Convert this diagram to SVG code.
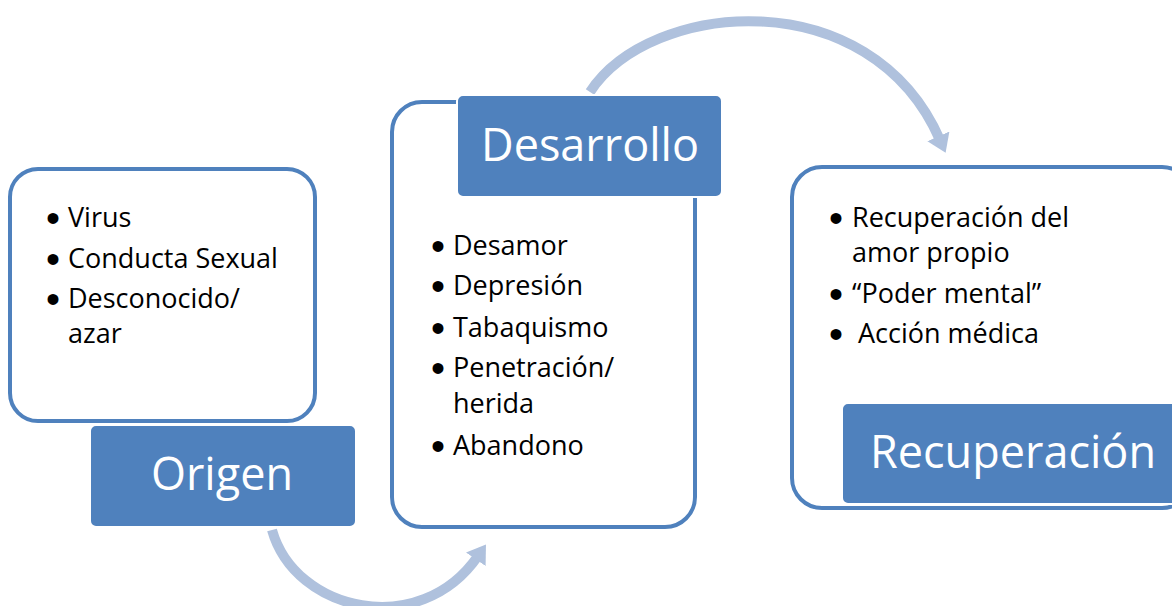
<svg xmlns="http://www.w3.org/2000/svg" width="1172" height="606" viewBox="0 0 1172 606">
<style>
.box{fill:#fff;stroke:#4F81BD;stroke-width:4}
.lbl{fill:#4F81BD;stroke:#fff;stroke-width:2}
.lt{font-family:"Open Sans","Liberation Sans",sans-serif;fill:#fff;font-size:45px}
.it{font-family:"Open Sans","Liberation Sans",sans-serif;fill:#000;font-size:27px}
.bu{font-family:"Liberation Sans",sans-serif;fill:#000;font-size:40px}
.arc{fill:none;stroke:#AFC1DD;stroke-width:10}
</style>
<defs>
<marker id="ah" markerUnits="userSpaceOnUse" markerWidth="24" markerHeight="26" refX="4" refY="12" orient="auto">
<path d="M0,0 L18,12 L0,24 z" fill="#AFC1DD"/>
</marker>
</defs>
<rect width="1172" height="606" fill="#fff"/>
<g id="connectors">
<path class="arc" d="M272,530 C295,612 420,640 478,556" marker-end="url(#ah)"/>
<path class="arc" d="M590,92 C650,0 870,-20 940,140" marker-end="url(#ah)"/>
</g>
<g id="origen">
<rect class="box" x="10" y="169" width="305" height="252" rx="28"/>
<g class="bu">
<text x="46" y="232">•</text><text x="46" y="273">•</text><text x="46" y="313">•</text>
</g>
<g class="it">
<text x="68" y="227">Virus</text>
<text x="68" y="268">Conducta Sexual</text>
<text x="68" y="308">Desconocido/</text>
<text x="68" y="343">azar</text>
</g>
<rect class="lbl" x="90" y="425" width="266" height="102" rx="6"/>
<text class="lt" x="222" y="490" text-anchor="middle">Origen</text>
</g>
<g id="desarrollo">
<rect class="box" x="392" y="102" width="303" height="425" rx="30"/>
<g class="bu">
<text x="431" y="260">•</text><text x="431" y="300">•</text><text x="431" y="342">•</text><text x="431" y="382">•</text><text x="431" y="460">•</text>
</g>
<g class="it">
<text x="453" y="255">Desamor</text>
<text x="453" y="295">Depresión</text>
<text x="453" y="337">Tabaquismo</text>
<text x="453" y="377">Penetración/</text>
<text x="453" y="413">herida</text>
<text x="453" y="455">Abandono</text>
</g>
<rect class="lbl" x="457" y="95" width="265" height="102" rx="6"/>
<text class="lt" x="590" y="161" text-anchor="middle">Desarrollo</text>
</g>
<g id="recuperacion">
<rect class="box" x="792" y="167" width="400" height="341" rx="30"/>
<g class="bu">
<text x="829" y="232">•</text><text x="829" y="308">•</text><text x="829" y="348">•</text>
</g>
<g class="it">
<text x="852" y="227">Recuperación del</text>
<text x="852" y="262">amor propio</text>
<text x="852" y="303">“Poder mental”</text>
<text x="858" y="343">Acción médica</text>
</g>
<rect class="lbl" x="842" y="403" width="340" height="101" rx="6"/>
<text class="lt" x="870" y="468">Recuperación</text>
</g>
</svg>
